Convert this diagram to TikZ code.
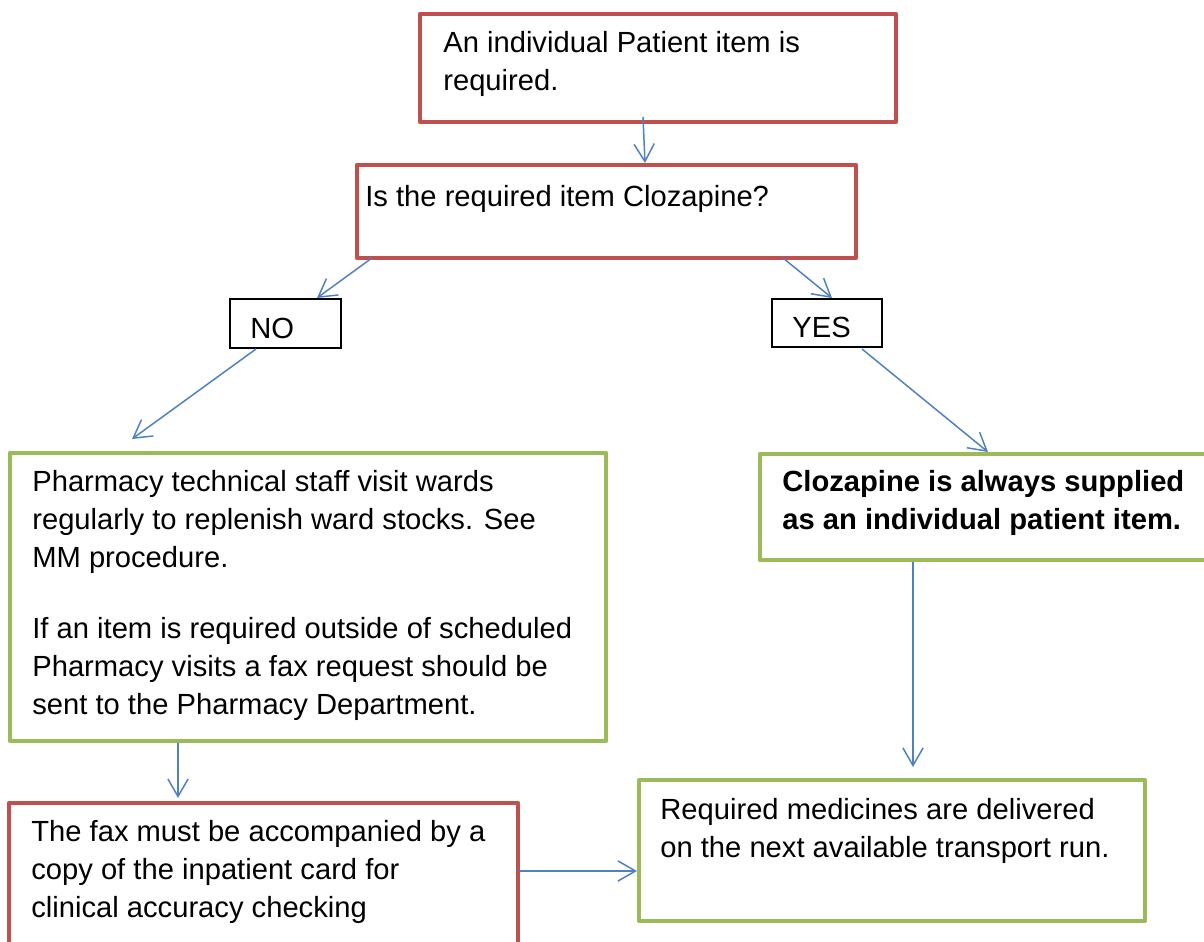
\documentclass[tikz,border=0pt]{standalone}
\usepackage{fontspec}
\setmainfont{Liberation Sans}
\usetikzlibrary{arrows.meta, positioning, calc}

\definecolor{boxred}{HTML}{C0504D}
\definecolor{boxgreen}{HTML}{9BBB59}
\definecolor{arrblue}{HTML}{4F81BD}
\newdimen\pxu
\pxu=0.02cm

\begin{document}
\begin{tikzpicture}[
  x=0.02cm, y=-0.02cm,
  font=\fontsize{16.6}{21.6}\selectfont,
  redbox/.style={draw=boxred, line width=2.6pt, line join=round, inner sep=0pt, outer sep=0pt, anchor=north west},
  greenbox/.style={redbox, draw=boxgreen},
  ansbox/.style={draw=black, line width=1.1pt, inner sep=0pt, outer sep=0pt, anchor=north west},
  txt/.style={inner sep=0pt, anchor=north west, align=left, execute at begin node=\strut},
  arr/.style={-{Straight Barb[length=10pt, width=11.5pt]}, draw=arrblue, line width=0.85pt}
]
  \useasboundingbox (0,0) rectangle (1204,942);
  \clip (0,0) rectangle (1204,942);

  % boxes
  \node[redbox, minimum width=476\pxu, minimum height=108\pxu] (qA) at (420,14) {};
  \node[redbox, minimum width=499\pxu, minimum height=93\pxu] (qB) at (357,165) {};
  \node[ansbox, minimum width=111\pxu, minimum height=49\pxu] (no) at (230,299) {};
  \node[ansbox, minimum width=110\pxu, minimum height=48\pxu] (yes) at (772,299) {};
  \node[greenbox, minimum width=596\pxu, minimum height=288\pxu] (qC) at (10,453) {};
  \node[greenbox, minimum width=470\pxu, minimum height=106\pxu] (qD) at (760,454) {};
  \node[redbox, minimum width=509\pxu, minimum height=200\pxu] (qE) at (9,803) {};
  \node[greenbox, minimum width=506\pxu, minimum height=141\pxu] (qF) at (639,780) {};

  % texts
  \node[txt] (tA) at ($(qA.north west)+(23,17)$) {An individual Patient item is\\required.};
  \node[txt] (tB) at ($(qB.north west)+(8,15)$) {Is the required item Clozapine?};
  \node[txt] (tNo) at ($(no.north west)+(20,12.4)$) {NO};
  \node[txt] (tYes) at ($(yes.north west)+(20,11.4)$) {YES};
  \node[txt] (tC) at ($(qC.north west)+(22,17)$) {Pharmacy technical staff visit wards\\regularly to replenish ward stocks. See\\MM procedure.\\[19pt]If an item is required outside of scheduled\\Pharmacy visits a fax request should be\\sent to the Pharmacy Department.};
  \node[txt, font=\fontsize{16.6}{21.6}\selectfont\bfseries] (tD) at ($(qD.north west)+(22,16)$) {Clozapine is always supplied\\as an individual patient item.};
  \node[txt] (tE) at ($(qE.north west)+(22,17)$) {The fax must be accompanied by a\\copy of the inpatient card for\\clinical accuracy checking};
  \node[txt] (tF) at ($(qF.north west)+(21,18)$) {Required medicines are delivered\\on the next available transport run.};

  % connectors
  \draw[arr] ($(qA.south west)+(223,-5)$) -- ($(qB.north west)+(288,-2)$);
  \draw[arr] ($(qB.south west)+(15,0)$) -- ($(no.north west)+(87,-1)$);
  \draw[arr] ($(no.south west)+(26,1)$) -- ($(qC.north west)+(122,-14)$);
  \draw[arr] ($(qB.south west)+(426,0)$) -- ($(yes.north west)+(60,-1)$);
  \draw[arr] ($(yes.south west)+(90,2)$) -- ($(qD.north west)+(228,-2)$);
  \draw[arr] ($(qC.south west)+(168,2)$) -- ($(qE.north west)+(169,-5)$);
  \draw[arr] ($(qD.south west)+(153,2)$) -- ($(qF.north west)+(274,-13)$);
  \draw[arr] ($(qE.north east)+(1,68)$) -- ($(qF.north west)+(-2,91)$);
\end{tikzpicture}
\end{document}
